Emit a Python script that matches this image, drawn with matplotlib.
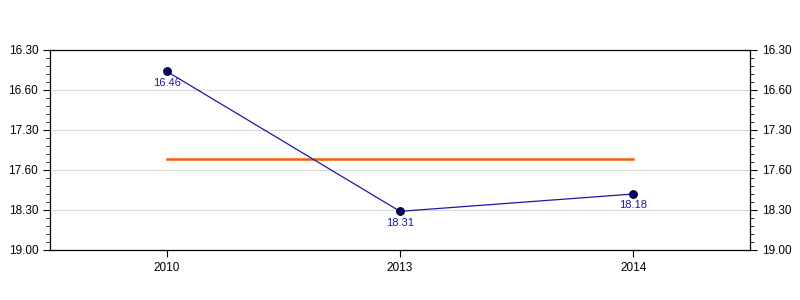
import matplotlib
matplotlib.use("Agg")
import matplotlib.pyplot as plt
from matplotlib.ticker import AutoMinorLocator

# lap times in mm.ss notation, one per year
years = ["2010", "2013", "2014"]
time_labels = ["16.46", "18.31", "18.18"]
time_minutes = [16 + 46 / 60, 18 + 31 / 60, 18 + 18 / 60]
average_minutes = sum(time_minutes) / len(time_minutes)

# y axis ticks (labels as shown on the chart)
ytick_vals = [16.5, 17.0, 17.5, 18.0, 18.5, 19.0]
ytick_labels = ["16.30", "16.60", "17.30", "17.60", "18.30", "19.00"]

plt.rcParams["font.family"] = ["Liberation Sans", "DejaVu Sans"]

fig = plt.figure(figsize=(8, 3), dpi=100)
ax = fig.add_axes([50 / 800, 50 / 300, 700 / 800, 200 / 300])

x = list(range(len(years)))
ax.plot(x, time_minutes, color="#1a1aa6", linewidth=0.9, zorder=3)
ax.plot(x, time_minutes, "o", markersize=5.5, markerfacecolor="#000080",
        markeredgecolor="black", markeredgewidth=0.8, zorder=4)
ax.plot([x[0], x[-1]], [average_minutes, average_minutes],
        color="#ff5a00", linewidth=1.8, zorder=2)

for xi, yi, lab in zip(x, time_minutes, time_labels):
    ax.annotate(lab, (xi, yi), xytext=(0, -4.5), textcoords="offset points",
                ha="center", va="top", fontsize=8, color="#1a1aa6")

ax.set_xlim(-0.5, len(years) - 0.5)
ax.set_ylim(19.0, 16.5)
ax.set_xticks(x)
ax.set_xticklabels(years, fontsize=8.5)
ax.set_yticks(ytick_vals)
ax.set_yticklabels(ytick_labels, fontsize=8.5)
ax.yaxis.set_minor_locator(AutoMinorLocator(5))
ax.tick_params(axis="y", which="both", left=True, right=True,
               labelleft=True, labelright=True, direction="out")
ax.tick_params(axis="y", which="major", length=5)
ax.tick_params(axis="y", which="minor", length=3)
ax.tick_params(axis="x", length=5, direction="out")
ax.grid(axis="y", color="#d8d8d8", linewidth=0.8)
ax.set_axisbelow(True)
for s in ax.spines.values():
    s.set_linewidth(0.9)

fig.savefig("out.png", dpi=100)
